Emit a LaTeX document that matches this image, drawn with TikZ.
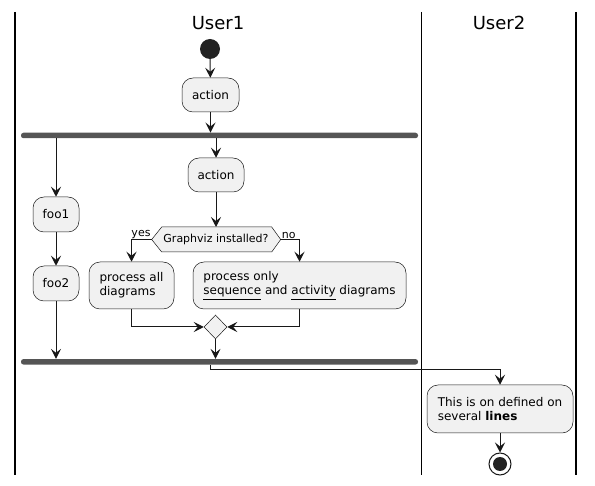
\documentclass[tikz,border=0pt]{standalone}
\usepackage{fontspec}
\setmainfont{DejaVu Sans}
\usetikzlibrary{arrows.meta,shapes.geometric,calc}
\definecolor{boxfill}{HTML}{F1F1F1}
\definecolor{boxline}{HTML}{181818}
\definecolor{barfill}{HTML}{555555}
\definecolor{dot}{HTML}{222222}
\begin{document}
\begin{tikzpicture}[x=1pt,y=-1pt,
  font=\fontsize{12}{14}\selectfont,
  actbox/.style={draw=boxline,fill=boxfill,line width=0.5pt,rounded corners=11pt,
    inner sep=0pt,align=left},
  multibox/.style={actbox,inner xsep=10pt},
  forkbar/.style={fill=barfill,rounded corners=2.5pt,inner sep=0pt,minimum width=397pt,minimum height=5.5pt},
  arr/.style={draw=boxline,line width=1pt,-{Stealth[length=10pt,width=10pt,inset=4pt]}},
  conn/.style={draw=boxline,line width=1pt},
  lane/.style={draw=black,line width=1.5pt},
  lbl/.style={font=\fontsize{11}{13}\selectfont,inner sep=1pt}]
\useasboundingbox (0,0) rectangle (595,486);
% swimlanes
\draw[lane] (15,12) -- (15,475);
\draw[lane] (421.5,12) -- (421.5,475);
\draw[lane] (576,12) -- (576,475);
\node (t1) at (218,23) {\fontsize{18}{20}\selectfont User1};
\node (t2) at (499,23) {\fontsize{18}{20}\selectfont User2};
% nodes
\node[circle,fill=dot,minimum size=20pt,inner sep=0pt] (start) at (210,49) {};
\node[actbox,minimum width=57pt,minimum height=34pt] (a1) at (210.5,95) {action};
\node[forkbar] (fork) at (219.5,135.5) {};
\node[actbox,minimum width=46pt,minimum height=35pt] (foo1) at (56,214.5) {foo1};
\node[actbox,minimum width=46pt,minimum height=35pt] (foo2) at (56,283.5) {foo2};
\node[actbox,minimum width=56pt,minimum height=34pt] (a2) at (216,175) {action};
% decision hexagon
\coordinate (qL) at (151.7,239.5);
\coordinate (qR) at (280.7,239.5);
\coordinate (qT) at (216,227);
\draw[draw=boxline,fill=boxfill,line width=0.5pt] (qL) -- (161.7,227) -- (271.7,227) -- (qR) -- (271.7,252) -- (161.7,252) -- cycle;
\node[font=\fontsize{11}{13}\selectfont] (q) at (216,239.5) {Graphviz installed?};
\node[multibox,minimum width=85pt,minimum height=47pt] (pall) at (131.5,285.5) {process all\\diagrams};
\node[multibox,minimum width=213pt,minimum height=47pt] (ponly) at (299.5,285.5) {process only\\\underline{sequence} and \underline{activity} diagrams};
\node[diamond,draw=boxline,fill=boxfill,line width=0.5pt,inner sep=0pt,minimum width=23pt,minimum height=24pt] (merge) at (215.5,327) {};
\node[forkbar] (join) at (219.5,361.8) {};
\node[multibox,minimum width=146pt,minimum height=48pt] (u2) at (500,409) {This is on defined on\\several \textbf{lines}};
\node[circle,draw=boxline,line width=1pt,fill=white,minimum size=22pt,inner sep=0pt] (end) at (500,464) {};
\node[circle,fill=dot,minimum size=14pt,inner sep=0pt] (endin) at (end) {};
% labels
\node[lbl,anchor=south east] (yes) at (qL) {yes};
\node[lbl,anchor=south west] (no) at (qR) {no};
% connectors
\draw[arr] (start) -- (a1);
\draw[arr] (a1) -- (a1 |- fork.north);
\draw[arr] (fork.south -| foo1) -- (foo1);
\draw[arr] (foo1) -- (foo2);
\draw[arr] (foo2) -- (foo2 |- join.north);
\draw[arr] (fork.south -| a2) -- (a2);
\draw[arr] (a2) -- (qT);
\draw[arr] (qL) -| (pall.north);
\draw[arr] (qR) -| (ponly.north);
\draw[arr] (pall.south) |- (merge.west);
\draw[arr] (ponly.south) |- (merge.east);
\draw[arr] (merge) -- (merge |- join.north);
\coordinate (c1) at (500,370);
\draw[arr] (join.south -| start) |- (c1) -- (u2.north);
\draw[arr] (u2) -- (end);
\end{tikzpicture}
\end{document}
